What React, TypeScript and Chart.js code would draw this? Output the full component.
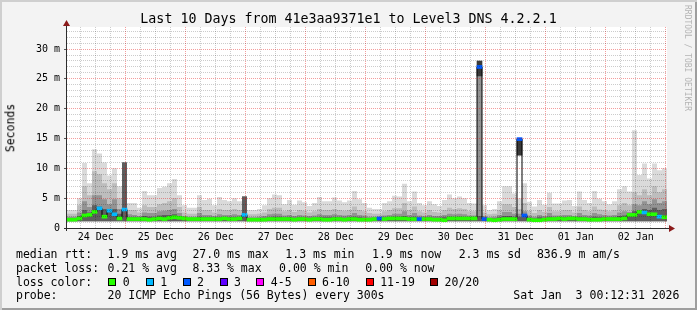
import React, { useEffect, useRef } from 'react';
import { Chart, registerables } from 'chart.js';

Chart.register(...registerables);

// ---- time axis (hours after 24 Dec 00:00) ----
const START_HOUR = 0.5;
const END_HOUR = 240.5;
const BIN_HOURS = 2;
const GRID_STEP_HOURS = 6;
const Y_MAX = 33.7;
const SMOKE_FLOOR = 1.15;

const TITLE = 'Last 10 Days from 41e3aa9371e1 to Level3 DNS 4.2.2.1';
const Y_TITLE = 'Seconds';
const WATERMARK = 'RRDTOOL / TOBI OETIKER';
const DAY_LABELS = ['24 Dec', '25 Dec', '26 Dec', '27 Dec', '28 Dec', '29 Dec', '30 Dec', '31 Dec', '01 Jan', '02 Jan'];

// ---- smoke envelopes (ms), one value per 2-hour bin ----
const SMOKE_MAX = [
  3.0, 3.0, 5.0, 10.9, 7.5, 13.2, 12.5, 11.0, 8.8, 10.0,
  7.0, 11.0, 4.2, 4.2, 3.4, 6.2, 5.5, 5.5, 6.7, 6.9,
  7.5, 8.2, 5.5, 3.8, 3.4, 3.4, 5.5, 4.7, 4.9, 3.8,
  5.2, 4.7, 4.5, 5.0, 4.5, 5.3, 3.0, 3.0, 3.2, 3.8,
  5.0, 5.6, 5.5, 4.0, 4.7, 3.9, 4.6, 4.3, 3.7, 4.2,
  5.2, 4.5, 4.5, 5.1, 4.6, 4.3, 4.6, 6.2, 4.8, 4.2,
  3.4, 3.2, 3.2, 4.2, 4.5, 5.4, 5.3, 7.4, 4.5, 6.1,
  4.2, 3.8, 4.5, 4.0, 3.7, 4.7, 5.6, 5.0, 5.3, 5.0,
  4.2, 4.1, 28.0, 3.8, 3.0, 3.2, 4.5, 7.0, 7.0, 5.8,
  5.0, 7.5, 4.4, 3.6, 4.7, 3.9, 5.9, 4.1, 4.1, 4.6,
  4.7, 3.7, 6.1, 4.7, 4.2, 6.2, 4.9, 4.5, 4.0, 4.5,
  6.5, 7.0, 6.1, 16.4, 8.9, 10.8, 8.3, 10.8, 9.7, 10.0,
];
const SMOKE_HIGH = [
  2.4, 2.4, 3.8, 7.0, 5.5, 9.5, 9.0, 7.5, 6.5, 7.5,
  5.0, 11.0, 3.0, 3.0, 2.6, 3.8, 3.5, 3.5, 4.0, 4.2,
  4.5, 5.0, 3.5, 2.6, 2.4, 2.4, 3.5, 3.0, 3.0, 2.6,
  3.2, 3.0, 3.0, 3.2, 3.0, 5.3, 2.3, 2.3, 2.4, 2.6,
  3.2, 3.4, 3.4, 2.8, 3.0, 2.7, 3.0, 2.9, 2.6, 2.8,
  3.2, 3.0, 3.0, 3.2, 3.0, 2.9, 3.0, 3.6, 3.0, 2.8,
  2.5, 2.4, 2.4, 2.8, 3.0, 3.3, 3.3, 4.2, 3.0, 3.6,
  2.8, 2.6, 3.0, 2.7, 2.6, 3.0, 3.4, 3.2, 3.3, 3.2,
  2.8, 2.8, 28.0, 2.6, 2.3, 2.4, 3.0, 4.0, 4.0, 3.5,
  3.2, 4.2, 2.9, 2.5, 3.0, 2.7, 3.5, 2.8, 2.8, 3.0,
  3.0, 2.6, 3.6, 3.0, 2.8, 3.6, 3.1, 3.0, 2.8, 3.0,
  3.8, 4.2, 3.8, 6.0, 5.5, 6.5, 5.5, 7.0, 6.0, 6.5,
];
const SMOKE_MID = [
  1.9, 1.9, 2.6, 4.5, 3.5, 5.5, 5.5, 4.8, 4.0, 4.8,
  3.2, 11.0, 2.3, 2.2, 2.0, 2.6, 2.5, 2.5, 2.8, 2.9,
  3.0, 3.2, 2.5, 2.0, 1.9, 1.9, 2.5, 2.2, 2.2, 2.0,
  2.3, 2.2, 2.2, 2.3, 2.2, 5.3, 1.8, 1.8, 1.9, 2.0,
  2.3, 2.4, 2.4, 2.1, 2.2, 2.0, 2.2, 2.1, 2.0, 2.1,
  2.3, 2.2, 2.2, 2.3, 2.2, 2.1, 2.2, 2.5, 2.2, 2.1,
  1.9, 1.9, 1.9, 2.1, 2.2, 2.4, 2.4, 2.8, 2.2, 2.5,
  2.1, 2.0, 2.2, 2.0, 2.0, 2.2, 2.4, 2.3, 2.4, 2.3,
  2.1, 2.1, 27.0, 2.0, 1.8, 1.9, 2.2, 2.7, 2.7, 2.4,
  2.4, 2.8, 2.1, 1.9, 2.2, 2.0, 2.5, 2.1, 2.1, 2.2,
  2.2, 2.0, 2.5, 2.2, 2.1, 2.5, 2.3, 2.2, 2.1, 2.2,
  2.6, 2.8, 2.7, 4.0, 3.8, 4.5, 4.0, 4.8, 4.2, 4.5,
];
const SMOKE_LOW = [
  1.6, 1.6, 2.0, 3.0, 2.6, 3.8, 3.6, 3.2, 2.8, 3.2,
  2.4, 11.0, 1.8, 1.8, 1.7, 2.0, 1.9, 1.9, 2.1, 2.2,
  2.2, 2.3, 1.9, 1.6, 1.6, 1.6, 1.9, 1.8, 1.8, 1.7,
  1.8, 1.8, 1.8, 1.8, 1.8, 5.3, 1.5, 1.5, 1.6, 1.7,
  1.8, 1.9, 1.9, 1.7, 1.8, 1.7, 1.8, 1.7, 1.7, 1.7,
  1.8, 1.8, 1.8, 1.8, 1.8, 1.7, 1.8, 1.9, 1.8, 1.7,
  1.6, 1.6, 1.6, 1.7, 1.8, 1.9, 1.9, 2.0, 1.8, 1.9,
  1.7, 1.7, 1.8, 1.7, 1.7, 1.8, 1.9, 1.8, 1.9, 1.8,
  1.7, 1.7, 2.0, 1.7, 1.5, 1.6, 1.8, 2.0, 2.0, 1.9,
  1.9, 2.1, 1.7, 1.6, 1.8, 1.7, 1.9, 1.7, 1.7, 1.8,
  1.8, 1.7, 1.9, 1.8, 1.7, 1.9, 1.8, 1.8, 1.7, 1.8,
  2.0, 2.1, 2.1, 2.8, 2.8, 3.2, 3.0, 3.4, 3.0, 3.2,
];
// floating smoke bands of the two latency spikes (bin index, low ms, high ms)
const SPIKE_BINS = [82, 90];
const SPIKE_LOW = [25.5, 12.2];
const SPIKE_HIGH = [28.0, 15.0];

// ---- median rtt (ms) and lost pings per bin ----
const MEDIAN = [
  1.4, 1.4, 1.6, 2.1, 2.2, 2.7, 3.3, 1.9, 2.9, 2.3,
  1.6, 3.1, 1.5, 1.5, 1.5, 1.5, 1.4, 1.5, 1.6, 1.5,
  1.7, 1.8, 1.7, 1.6, 1.5, 1.5, 1.5, 1.5, 1.5, 1.5,
  1.5, 1.6, 1.5, 1.5, 1.6, 2.2, 1.4, 1.4, 1.4, 1.4,
  1.5, 1.5, 1.5, 1.5, 1.5, 1.4, 1.5, 1.5, 1.4, 1.5,
  1.5, 1.4, 1.4, 1.5, 1.5, 1.4, 1.5, 1.5, 1.4, 1.4,
  1.4, 1.5, 1.6, 1.5, 1.6, 1.6, 1.6, 1.6, 1.5, 1.5,
  1.5, 1.5, 1.5, 1.4, 1.4, 1.3, 1.6, 1.6, 1.6, 1.6,
  1.6, 1.6, 27.0, 1.5, 1.4, 1.3, 1.4, 1.5, 1.5, 1.5,
  14.9, 2.1, 1.4, 1.3, 1.3, 1.4, 1.5, 1.5, 1.6, 1.5,
  1.6, 1.6, 1.5, 1.5, 1.4, 1.4, 1.4, 1.5, 1.5, 1.5,
  1.5, 1.6, 2.2, 2.2, 2.7, 2.6, 2.3, 2.3, 1.9, 1.8,
];
const LOSS = [
  0, 0, 0, 0, 0, 0, 1, 0, 1, 1,
  0, 1, 0, 0, 0, 0, 0, 0, 0, 0,
  0, 0, 0, 0, 0, 0, 0, 0, 0, 0,
  0, 0, 0, 0, 0, 1, 0, 0, 0, 0,
  0, 0, 0, 0, 0, 0, 0, 0, 0, 0,
  0, 0, 0, 0, 0, 0, 0, 0, 0, 0,
  0, 0, 2, 0, 0, 0, 0, 0, 0, 0,
  2, 0, 0, 0, 0, 0, 0, 0, 0, 0,
  0, 0, 2, 2, 0, 0, 0, 0, 0, 0,
  2, 2, 0, 0, 0, 0, 0, 0, 0, 0,
  0, 0, 0, 0, 0, 0, 0, 0, 0, 0,
  0, 0, 0, 0, 0, 1, 0, 0, 1, 0,
];

// ---- legend texts ----
const MEDIAN_LABEL = 'median rtt:';
const MEDIAN_STATS = ['1.9 ms avg', '27.0 ms max', '1.3 ms min', '1.9 ms now', '2.3 ms sd', '836.9 m am/s'];
const LOSS_LABEL = 'packet loss:';
const LOSS_STATS = ['0.21 % avg', '8.33 % max', '0.00 % min', '0.00 % now'];
const LOSS_COLOR_LABEL = 'loss color:';
const LOSS_LEGEND_LABELS = ['0', '1', '2', '3', '4-5', '6-10', '11-19', '20/20'];
const LOSS_LEGEND_COLORS = ['#26ff00', '#00b8ff', '#0059ff', '#5e00ff', '#ff00ff', '#ff5e00', '#ff0000', '#a10000'];
const PROBE_LABEL = 'probe:';
const PROBE_TEXT = '20 ICMP Echo Pings (56 Bytes) every 300s';
const STAMP_TEXT = 'Sat Jan  3 00:12:31 2026';

// ---- layout ----
const W = 697;
const H = 310;
const PLOT = { left: 67, right: 667, top: 27, bottom: 228 };
const MEDIAN_STATS_X = [107.6, 192.4, 285.3, 372, 458.7, 536.9];
const LOSS_STATS_X = [107.6, 192.4, 279.1, 365.3];
const LOSS_BOX_X = [108.4, 145.8, 182.7, 219.6, 256.4, 307.6, 365.8, 430.2];
const ROW_TOPS = [249.3, 263, 276.8, 290.4];
const FONT = '"DejaVu Sans Mono", monospace';
const MINOR_GRID = 'rgba(0,0,0,0.2)';
const MAJOR_GRID = 'rgba(225,0,0,0.38)';

const lossColor = (n: number) => {
  if (n <= 0) return LOSS_LEGEND_COLORS[0];
  if (n === 1) return LOSS_LEGEND_COLORS[1];
  if (n === 2) return LOSS_LEGEND_COLORS[2];
  if (n === 3) return LOSS_LEGEND_COLORS[3];
  if (n <= 5) return LOSS_LEGEND_COLORS[4];
  if (n <= 10) return LOSS_LEGEND_COLORS[5];
  if (n <= 19) return LOSS_LEGEND_COLORS[6];
  return LOSS_LEGEND_COLORS[7];
};

const binCenter = (i: number) => START_HOUR + BIN_HOURS * i + BIN_HOURS / 2;

const stepPoints = (arr: number[]) => {
  const pts = arr.map((v, i) => ({ x: START_HOUR + BIN_HOURS * i, y: v }));
  pts.push({ x: END_HOUR, y: arr[arr.length - 1] });
  return pts;
};

const smokeLayer = (data: number[], color: string, order: number) => ({
  type: 'line' as const,
  data: stepPoints(data),
  stepped: true,
  borderColor: 'rgba(0,0,0,0)',
  borderWidth: 0,
  backgroundColor: color,
  pointRadius: 0,
  fill: { value: SMOKE_FLOOR },
  order,
});

const rrdFrame = {
  id: 'rrdFrame',
  beforeDraw(chart: any) {
    const { ctx, chartArea: a } = chart;
    ctx.save();
    ctx.fillStyle = '#ffffff';
    ctx.fillRect(a.left, a.top, a.right - a.left, a.bottom - a.top);
    ctx.restore();
  },
  afterDraw(chart: any) {
    const { ctx, chartArea: a } = chart;
    ctx.save();
    ctx.strokeStyle = '#2c2c2c';
    ctx.lineWidth = 1;
    ctx.beginPath();
    ctx.moveTo(a.left - 3, a.bottom + 0.5);
    ctx.lineTo(a.right + 3, a.bottom + 0.5);
    ctx.moveTo(a.left - 0.5, a.bottom + 3);
    ctx.lineTo(a.left - 0.5, a.top - 2);
    ctx.stroke();
    ctx.fillStyle = '#8b1a1a';
    ctx.beginPath();
    ctx.moveTo(a.left - 0.5, a.top - 7);
    ctx.lineTo(a.left - 4, a.top - 1);
    ctx.lineTo(a.left + 3, a.top - 1);
    ctx.closePath();
    ctx.fill();
    ctx.beginPath();
    ctx.moveTo(a.right + 8, a.bottom + 0.5);
    ctx.lineTo(a.right + 2, a.bottom - 3);
    ctx.lineTo(a.right + 2, a.bottom + 4);
    ctx.closePath();
    ctx.fill();
    ctx.restore();
  },
};

export default function App() {
  const ref = useRef<HTMLCanvasElement>(null);

  useEffect(() => {
    if (!ref.current) return;
    const chart = new Chart(ref.current, {
      type: 'line',
      data: {
        datasets: [
          smokeLayer(SMOKE_MAX, '#dadada', 8),
          smokeLayer(SMOKE_HIGH, '#bdbdbd', 7),
          smokeLayer(SMOKE_MID, '#939393', 6),
          smokeLayer(SMOKE_LOW, '#5e5e5e', 5),
          {
            type: 'bar',
            data: SPIKE_BINS.map((b, i) => ({ x: binCenter(b), y: [SPIKE_LOW[i], SPIKE_HIGH[i]] })),
            backgroundColor: '#3a3a3a',
            borderWidth: 0,
            barThickness: 5,
            grouped: false,
            order: 4,
          },
          {
            type: 'line',
            data: stepPoints(MEDIAN),
            stepped: true,
            borderColor: '#000000',
            borderWidth: 1,
            pointRadius: 0,
            fill: false,
            order: 3,
          },
          {
            type: 'bar',
            data: MEDIAN.map((m, i) => ({ x: binCenter(i), y: [m - 0.25, m + 0.25] })),
            backgroundColor: LOSS.map(lossColor),
            borderWidth: 0,
            barThickness: 5,
            grouped: false,
            order: 1,
          },
        ] as any,
      },
      options: {
        animation: false,
        responsive: false,
        events: [],
        layout: { padding: { left: 0, right: W - PLOT.right, top: PLOT.top, bottom: 0 } },
        plugins: { legend: { display: false }, tooltip: { enabled: false }, title: { display: false } },
        scales: {
          x: {
            type: 'linear',
            min: START_HOUR,
            max: END_HOUR,
            offset: false,
            afterFit: (s: any) => { s.height = H - PLOT.bottom; },
            afterBuildTicks: (s: any) => {
              const t = [];
              for (let h = GRID_STEP_HOURS; h < END_HOUR; h += GRID_STEP_HOURS) t.push({ value: h });
              s.ticks = t;
            },
            grid: {
              z: 1,
              offset: false,
              drawTicks: false,
              color: (c: any) => (c.tick && c.tick.value % 24 === 0 ? MAJOR_GRID : MINOR_GRID),
            },
            border: { display: false, dash: [1, 1] },
            ticks: {
              autoSkip: false,
              maxRotation: 0,
              minRotation: 0,
              padding: 3,
              color: '#000',
              font: { family: 'DejaVu Sans Mono', size: 10 },
              callback: (v: any) => (Number(v) % 24 === 12 ? DAY_LABELS[(Number(v) - 12) / 24] : ''),
            },
          },
          y: {
            type: 'linear',
            min: 0,
            max: Y_MAX,
            afterFit: (s: any) => { s.width = PLOT.left; },
            grid: {
              z: 1,
              drawTicks: true,
              tickLength: 3,
              color: (c: any) => (c.tick && c.tick.value % 5 === 0 ? MAJOR_GRID : MINOR_GRID),
              tickColor: (c: any) => (c.tick && c.tick.value % 5 === 0 ? '#555' : 'rgba(0,0,0,0)'),
            },
            border: { display: false, dash: [1, 1] },
            ticks: {
              stepSize: 1,
              includeBounds: false,
              autoSkip: false,
              padding: 4,
              color: '#000',
              font: { family: 'DejaVu Sans Mono', size: 10 },
              callback: (v: any) => {
                const n = Number(v);
                if (n % 5 !== 0) return '';
                return n === 0 ? '0' : `${n} m`;
              },
            },
          },
        },
      } as any,
      plugins: [rrdFrame],
    });
    return () => chart.destroy();
  }, []);

  const txt = (left: number, top: number, s: string, size = 11.5, extra: any = {}) => (
    <div
      key={`${left}-${top}-${s}`}
      style={{ position: 'absolute', left, top, fontSize: size, lineHeight: 1, whiteSpace: 'pre', ...extra }}
    >
      {s}
    </div>
  );

  return (
    <div
      style={{
        position: 'fixed',
        left: 0,
        top: 0,
        width: W,
        height: H,
        background: '#f3f3f3',
        boxShadow: 'inset 2px 2px 0 #cfcfcf, inset -2px -2px 0 #9e9e9e',
        fontFamily: FONT,
        color: '#000',
        overflow: 'hidden',
      }}
    >
      <canvas ref={ref} width={W} height={H} style={{ position: 'absolute', left: 0, top: 0, width: W, height: H }} />
      <div style={{ position: 'absolute', left: 0, top: 12.4, width: W, textAlign: 'center', fontSize: 13.3, lineHeight: 1, whiteSpace: 'pre' }}>
        {TITLE}
      </div>
      <div
        style={{
          position: 'absolute',
          left: 10.5,
          top: 128,
          fontSize: 11.5,
          lineHeight: 1,
          whiteSpace: 'pre',
          transform: 'translate(-50%, -50%) rotate(-90deg)',
        }}
      >
        {Y_TITLE}
      </div>
      <div
        style={{
          position: 'absolute',
          left: 683,
          top: 5,
          fontSize: 8,
          lineHeight: 1,
          whiteSpace: 'pre',
          writingMode: 'vertical-rl',
          color: '#b4b4b4',
        }}
      >
        {WATERMARK}
      </div>
      {txt(16, ROW_TOPS[0], MEDIAN_LABEL)}
      {MEDIAN_STATS.map((s, i) => txt(MEDIAN_STATS_X[i], ROW_TOPS[0], s))}
      {txt(16, ROW_TOPS[1], LOSS_LABEL)}
      {LOSS_STATS.map((s, i) => txt(LOSS_STATS_X[i], ROW_TOPS[1], s))}
      {txt(16, ROW_TOPS[2], LOSS_COLOR_LABEL)}
      {LOSS_LEGEND_LABELS.map((s, i) => (
        <React.Fragment key={s}>
          <div
            style={{
              position: 'absolute',
              left: LOSS_BOX_X[i],
              top: ROW_TOPS[2] + 1.5,
              width: 8,
              height: 8,
              boxSizing: 'border-box',
              border: '1px solid #000',
              background: LOSS_LEGEND_COLORS[i],
            }}
          />
          {txt(LOSS_BOX_X[i] + 14.4, ROW_TOPS[2], s)}
        </React.Fragment>
      ))}
      {txt(16, ROW_TOPS[3], PROBE_LABEL)}
      {txt(107.6, ROW_TOPS[3], PROBE_TEXT)}
      {txt(513.3, ROW_TOPS[3], STAMP_TEXT)}
    </div>
  );
}
